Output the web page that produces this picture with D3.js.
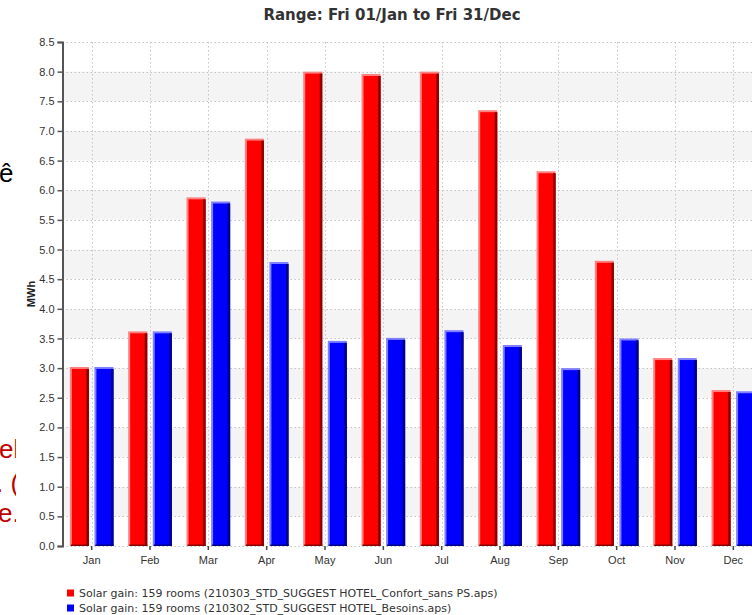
<!DOCTYPE html>
<html>
<head>
<meta charset="utf-8">
<script src="https://cdn.jsdelivr.net/npm/d3@7"></script>
<style>
  html, body { margin: 0; padding: 0; background: #fff; }
  svg { display: block; font-family: "Liberation Sans", Arial, sans-serif; }
</style>
</head>
<body>
<svg id="chart" width="752" height="615"></svg>
<script>
// Monthly solar gain (MWh) for the two model variants
const months = ["Jan", "Feb", "Mar", "Apr", "May", "Jun", "Jul", "Aug", "Sep", "Oct", "Nov", "Dec"];
const confortValues = [3.02, 3.62, 5.88, 6.87, 8.0, 7.96, 8.0, 7.35, 6.32, 4.81, 3.17, 2.63];
const besoinsValues = [3.02, 3.62, 5.81, 4.79, 3.46, 3.51, 3.64, 3.39, 3.0, 3.5, 3.17, 2.61];
const yTicks = [0, 0.5, 1, 1.5, 2, 2.5, 3, 3.5, 4, 4.5, 5, 5.5, 6, 6.5, 7, 7.5, 8, 8.5];
const seriesNames = [
  "Solar gain: 159 rooms (210303_STD_SUGGEST HOTEL_Confort_sans PS.aps)",
  "Solar gain: 159 rooms (210302_STD_SUGGEST HOTEL_Besoins.aps)"
];
const titleText = "Range: Fri 01/Jan to Fri 31/Dec";

const series = [
  { key: "confort", values: confortValues, fill: "#ff0000", light: "#ff8080", dark: "#8a0000" },
  { key: "besoins", values: besoinsValues, fill: "#0000ff", light: "#8080ff", dark: "#00008a" }
];

const svg = d3.select("#chart");
const plotLeft = 62.5, plotRight = 762.5, plotTop = 42, plotBottom = 546;

const x = d3.scaleBand().domain(months).range([plotLeft, plotRight]).padding(0);
const x1 = d3.scaleBand().domain(series.map(s => s.key)).range([0, x.bandwidth()])
  .paddingInner(0.225).paddingOuter(0.3);
const y = d3.scaleLinear().domain([0, 8.5]).range([plotBottom, plotTop]);

// Text fragments from the slide behind the chart, cut at the left edge
svg.append("defs").append("clipPath").attr("id", "leftclip")
  .append("rect").attr("x", 0).attr("y", 0).attr("width", 16).attr("height", 615);
const behind = svg.append("g").attr("clip-path", "url(#leftclip)")
  .style("font-family", "'Liberation Sans', Arial, sans-serif").style("font-size", "26px");
behind.append("text").attr("x", -1).attr("y", 182).attr("fill", "#000").text("ê");
behind.append("text").attr("x", -1).attr("y", 458).attr("fill", "#c00000").text("el");
behind.append("text").attr("x", -4).attr("y", 492).attr("fill", "#c00000").text(". (");
behind.append("text").attr("x", -2).attr("y", 522).attr("fill", "#c00000").text("e.");

// Alternating horizontal bands
const bandStarts = yTicks.filter((t, i) => i % 2 === 1 && t < 8.5);
svg.append("g").selectAll("rect").data(bandStarts).join("rect")
  .attr("x", plotLeft).attr("width", plotRight - plotLeft)
  .attr("y", d => y(d + 0.5)).attr("height", d => y(d) - y(d + 0.5))
  .attr("fill", "#f4f4f4");

// Dotted grid
const grid = svg.append("g").attr("stroke", "#c4c4c4").attr("stroke-dasharray", "1.5,2.5").attr("stroke-width", 1);
grid.selectAll("line.h").data(yTicks).join("line").attr("class", "h")
  .attr("x1", plotLeft).attr("x2", plotRight)
  .attr("y1", d => Math.round(y(d)) + 0.5).attr("y2", d => Math.round(y(d)) + 0.5);
grid.selectAll("line.v").data(months).join("line").attr("class", "v")
  .attr("x1", d => Math.round(x(d) + x.bandwidth() / 2) + 0.5)
  .attr("x2", d => Math.round(x(d) + x.bandwidth() / 2) + 0.5)
  .attr("y1", plotTop).attr("y2", plotBottom);

// Bars with bevelled edges
const groups = svg.append("g").selectAll("g").data(months).join("g")
  .attr("transform", d => `translate(${x(d)},0)`);
series.forEach(s => {
  const bar = groups.append("g");
  const bx = () => x1(s.key);
  bar.append("rect")
    .attr("x", bx).attr("width", x1.bandwidth())
    .attr("y", (d, i) => y(s.values[i])).attr("height", (d, i) => y(0) - y(s.values[i]))
    .attr("fill", s.light);
  bar.append("rect")
    .attr("x", () => bx() + 2).attr("width", x1.bandwidth() - 2)
    .attr("y", (d, i) => y(s.values[i]) + 2).attr("height", (d, i) => y(0) - y(s.values[i]) - 2)
    .attr("fill", s.fill);
  bar.append("rect")
    .attr("x", () => bx() + x1.bandwidth() - 2.5).attr("width", 2.5)
    .attr("y", (d, i) => y(s.values[i]) + 2).attr("height", (d, i) => y(0) - y(s.values[i]) - 2)
    .attr("fill", s.dark);
  bar.append("rect")
    .attr("x", () => bx() + 1).attr("width", x1.bandwidth() - 1)
    .attr("y", y(0) - 1.5).attr("height", 1.5)
    .attr("fill", s.dark);
});

// Y axis
const yAxis = d3.axisLeft(y).tickValues(yTicks).tickFormat(d3.format(".1f")).tickSize(5).tickPadding(3);
const yg = svg.append("g").attr("transform", `translate(${plotLeft},0)`).call(yAxis);
yg.select(".domain").attr("stroke", "#555").attr("stroke-width", 2);
yg.selectAll(".tick line").attr("stroke", "#555").attr("stroke-width", 1.5);
yg.selectAll(".tick text").attr("fill", "#333").style("font-size", "11px").style("font-family", "'Liberation Sans', Arial, sans-serif");

// X axis
const xAxis = d3.axisBottom(x).tickSize(4).tickPadding(6);
const xg = svg.append("g").attr("transform", `translate(0,${plotBottom})`).call(xAxis);
xg.select(".domain").remove();
xg.selectAll(".tick line").attr("stroke", "#444").attr("stroke-width", 1.5);
xg.selectAll(".tick text").attr("fill", "#333").style("font-size", "11px").style("font-family", "'Liberation Sans', Arial, sans-serif");

// Axis title
svg.append("text")
  .attr("transform", `translate(35,${(plotTop + plotBottom) / 2}) rotate(-90)`)
  .attr("text-anchor", "middle")
  .style("font-size", "11px").style("font-weight", "bold").attr("fill", "#222")
  .text("MWh");

// Chart title
svg.append("text")
  .attr("x", 392).attr("y", 20).attr("text-anchor", "middle")
  .style("font-family", "'DejaVu Sans', Verdana, sans-serif")
  .style("font-size", "15px").style("font-weight", "bold").attr("fill", "#333")
  .text(titleText);

// Legend
const legend = svg.append("g").selectAll("g").data(series).join("g")
  .attr("transform", (d, i) => `translate(67,${593 + i * 15})`);
legend.append("rect").attr("x", 0).attr("y", -3.5).attr("width", 7).attr("height", 7).attr("fill", d => d.fill);
legend.append("text").attr("x", 12).attr("y", 4)
  .style("font-family", "'DejaVu Sans', Verdana, sans-serif")
  .style("font-size", "11px").attr("fill", "#333")
  .text((d, i) => seriesNames[i]);
</script>
</body>
</html>
